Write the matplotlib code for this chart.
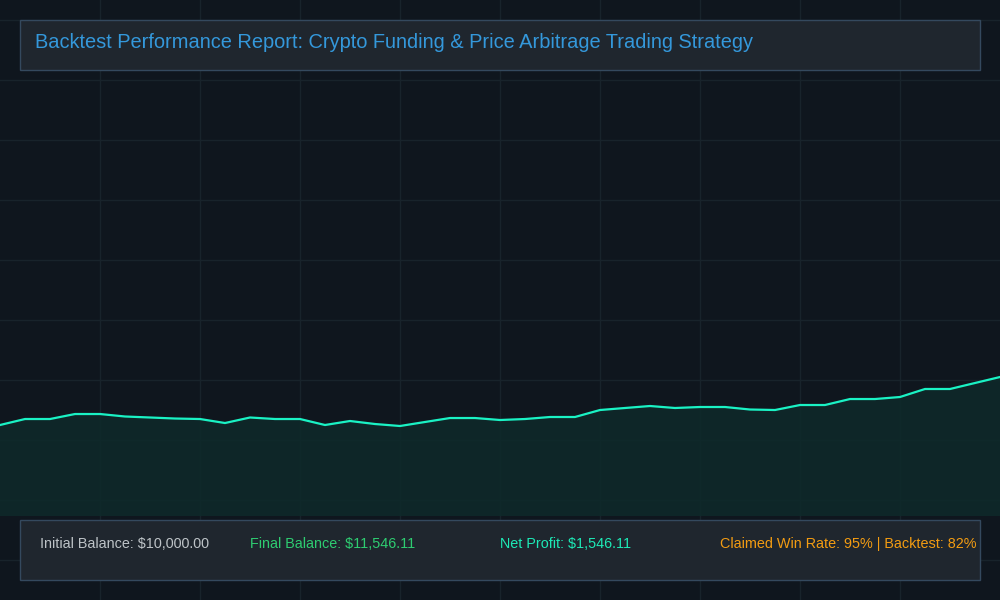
import matplotlib
matplotlib.use("Agg")
import matplotlib.pyplot as plt
from matplotlib.patches import Rectangle

plt.rcParams['font.family'] = ['Liberation Sans', 'DejaVu Sans']

# equity curve (41 daily points)
days = list(range(41))
balance = [10000, 10193, 10193, 10354, 10354, 10274, 10242, 10209, 10193, 10064,
           10242, 10193, 10193, 10000, 10129, 10032, 9968, 10097, 10225, 10225,
           10161, 10193, 10258, 10258, 10483, 10548, 10612, 10548, 10580, 10580,
           10499, 10483, 10644, 10644, 10837, 10837, 10902, 11160, 11160, 11353,
           11546.11]

title = "Backtest Performance Report: Crypto Funding & Price Arbitrage Trading Strategy"
stat_labels = ["Initial Balance: $10,000.00", "Final Balance: $11,546.11",
               "Net Profit: $1,546.11", "Claimed Win Rate: 95% | Backtest: 82%"]
stat_colors = ["#bdc3c7", "#2ecc71", "#1de9b6", "#f39c12"]
stat_x = [40, 250, 500, 720]

bg = "#0f161e"
fig = plt.figure(figsize=(10, 6), dpi=100, facecolor=bg)

# background grid over the whole figure (pixel coords)
grid = fig.add_axes([0, 0, 1, 1])
grid.set_xlim(0, 1000)
grid.set_ylim(600, 0)
grid.set_facecolor(bg)
for gx in range(100, 1000, 100):
    grid.axvline(gx, color="#18232b", lw=1)
for gy in range(20, 600, 60):
    grid.axhline(gy, color="#18232b", lw=1)
grid.axis("off")

# equity curve
ax = fig.add_axes([0, 84 / 600, 1, 516 / 600])
ax.patch.set_alpha(0)
ax.plot(days, balance, color="#1af2c4", lw=1.6)
ax.fill_between(days, balance, 0, color="#0e2a2a", alpha=0.85, lw=0)
ax.set_xlim(0, 40)
ax.set_ylim(7069, 23690)
ax.axis("off")

# title box and stats box
top = fig.add_axes([0, 0, 1, 1])
top.set_xlim(0, 1000)
top.set_ylim(600, 0)
top.axis("off")
top.patch.set_alpha(0)
top.add_patch(Rectangle((20, 20), 960, 50, facecolor="#1f262e", edgecolor="#34495e", lw=1))
top.text(35, 43, title, color="#3498db", fontsize=14.4, va="center", ha="left")
top.add_patch(Rectangle((20, 520), 960, 60, facecolor="#1f262e", edgecolor="#34495e", lw=1))
for label, col, sx in zip(stat_labels, stat_colors, stat_x):
    top.text(sx, 544, label, color=col, fontsize=10.4, va="center", ha="left")

fig.savefig("out.png", dpi=100, facecolor=bg)
